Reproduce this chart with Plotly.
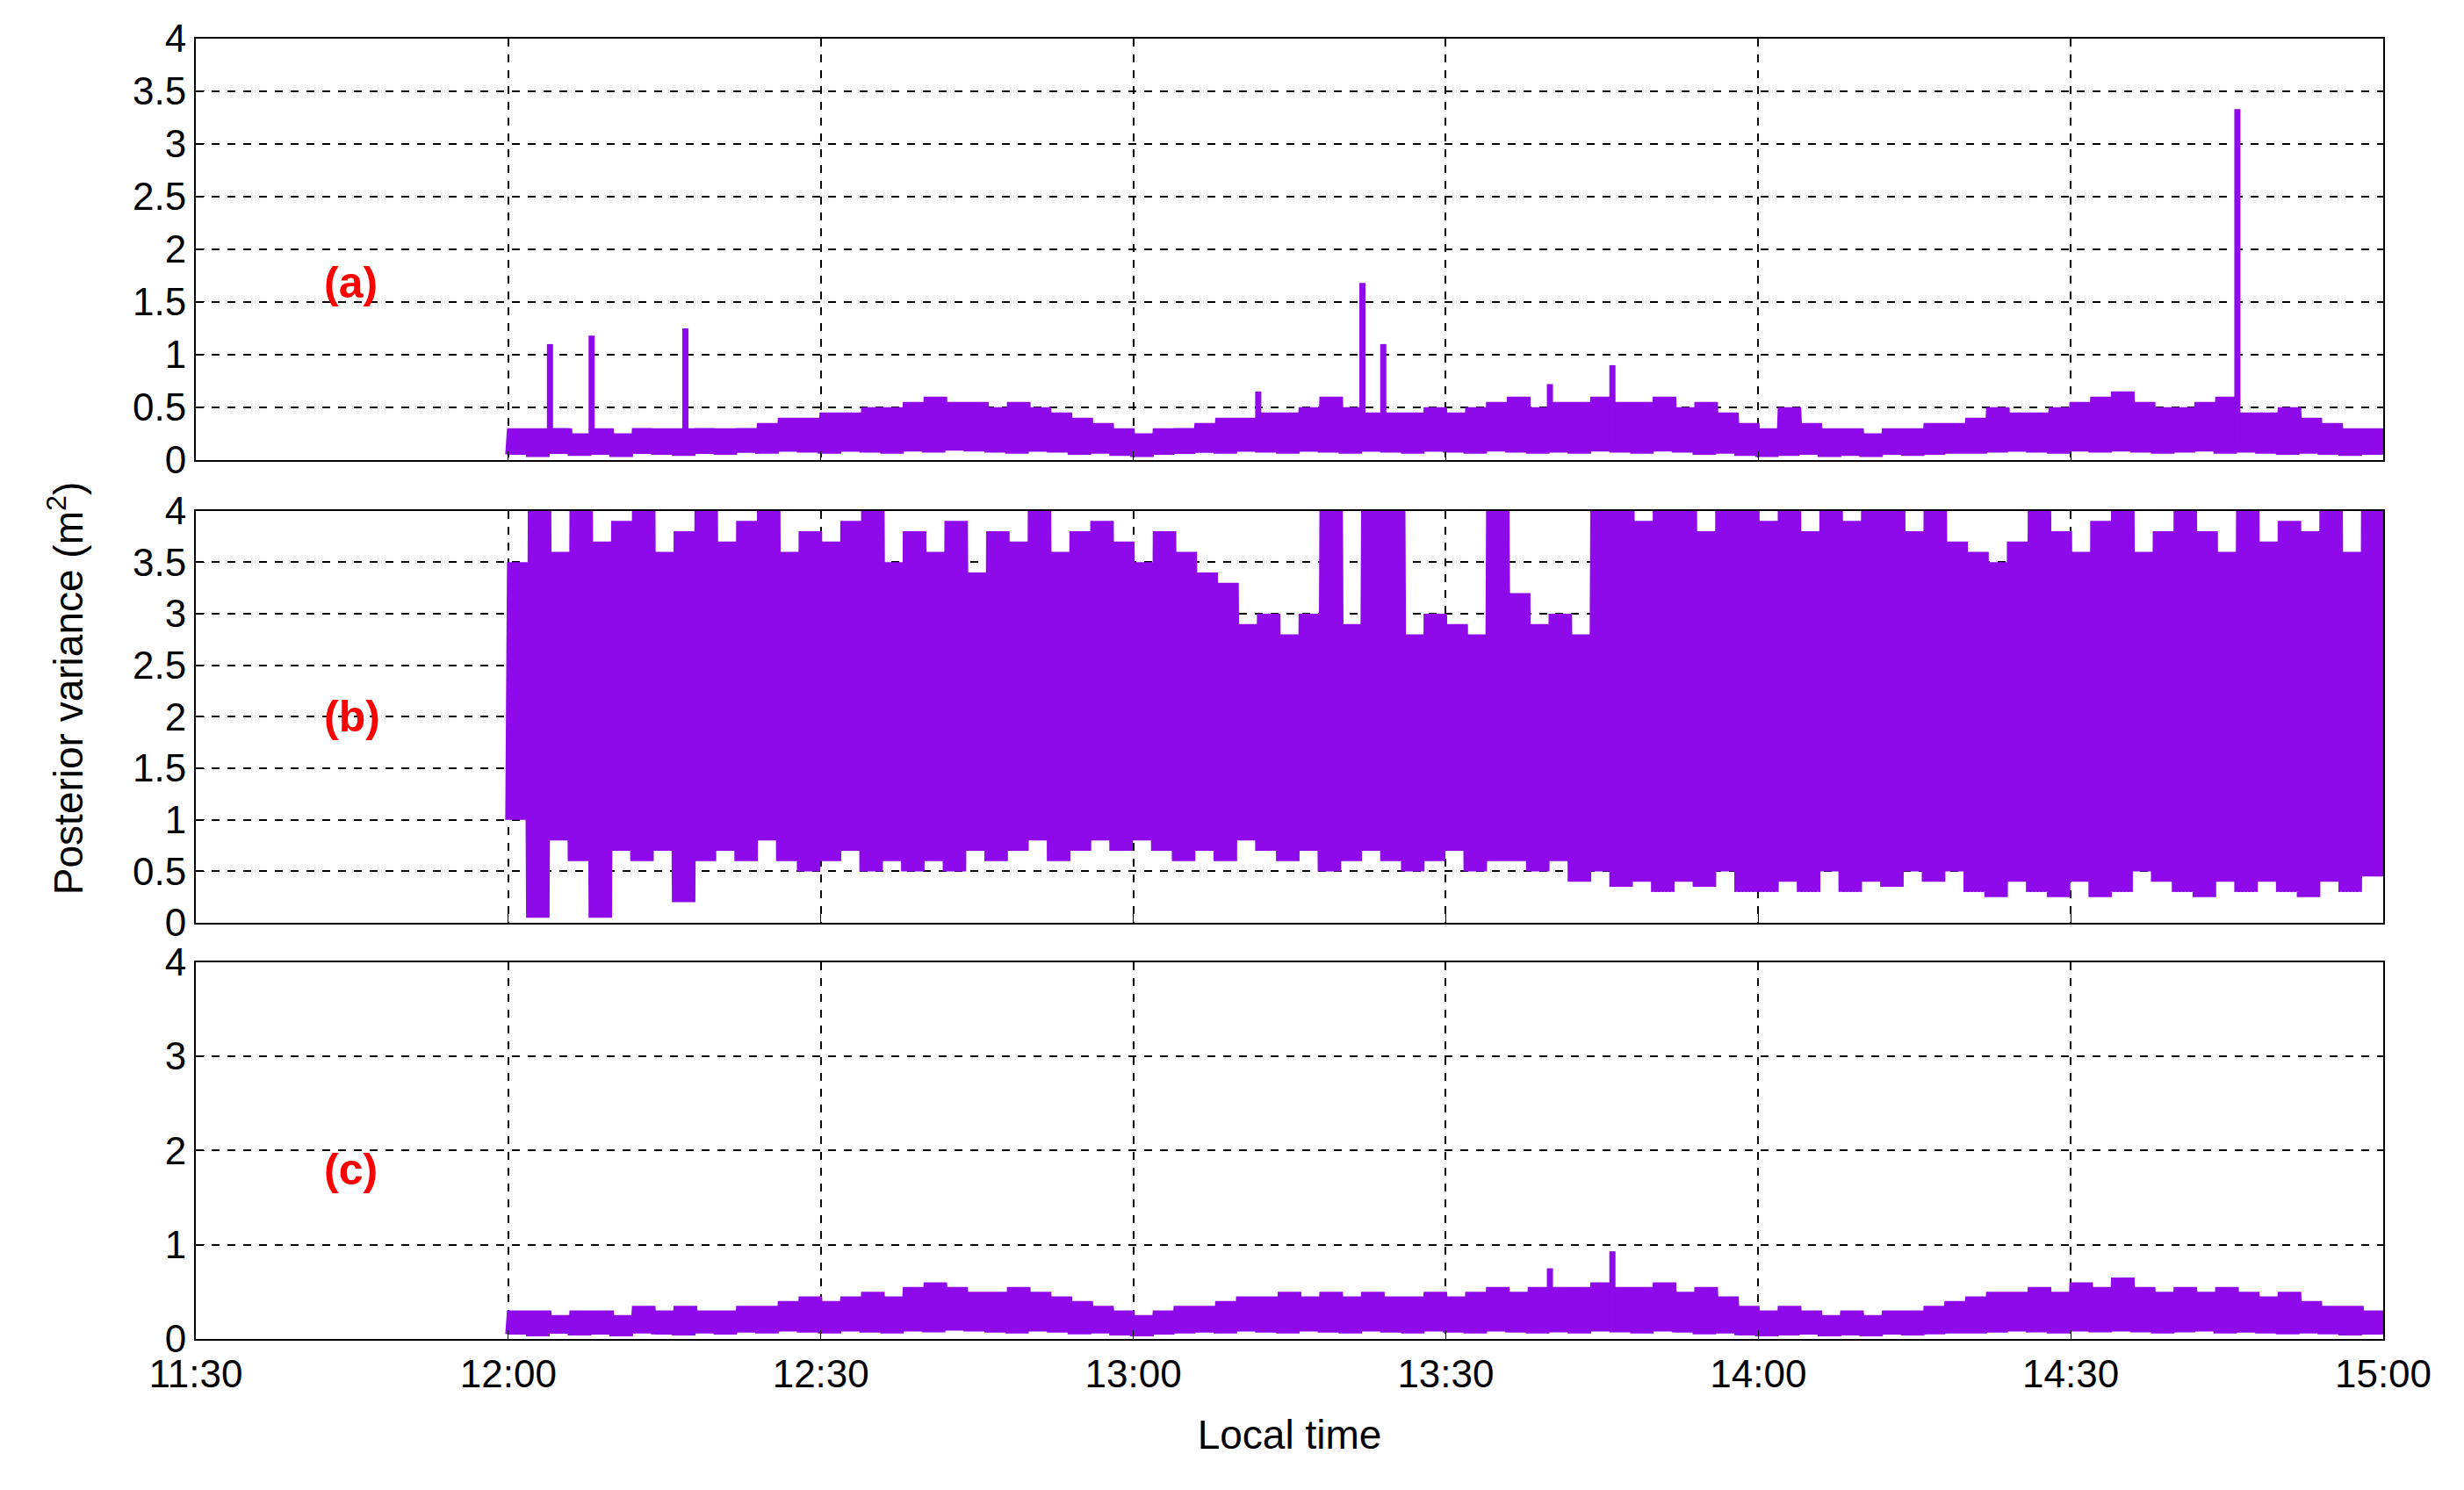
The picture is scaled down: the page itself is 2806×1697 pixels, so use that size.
import pandas as pd
import plotly.graph_objects as go
from plotly.subplots import make_subplots

# values read every 2 minutes from 12:00 to 14:58 (upper / lower envelope of the band)
a_hi = [0.3, 0.3, 0.3, 0.25, 0.3, 0.25, 0.3, 0.3, 0.3, 0.3,
        0.3, 0.3, 0.35, 0.4, 0.4, 0.45, 0.45, 0.5, 0.5, 0.55,
        0.6, 0.55, 0.55, 0.5, 0.55, 0.5, 0.45, 0.4, 0.35, 0.3,
        0.25, 0.3, 0.3, 0.35, 0.4, 0.4, 0.45, 0.45, 0.5, 0.6,
        0.5, 0.45, 0.45, 0.45, 0.5, 0.45, 0.5, 0.55, 0.6, 0.5,
        0.55, 0.55, 0.6, 0.55, 0.55, 0.6, 0.5, 0.55, 0.45, 0.35,
        0.3, 0.5, 0.35, 0.3, 0.3, 0.25, 0.3, 0.3, 0.35, 0.35,
        0.4, 0.5, 0.45, 0.45, 0.5, 0.55, 0.6, 0.65, 0.55, 0.5,
        0.5, 0.55, 0.6, 0.45, 0.45, 0.5, 0.4, 0.35, 0.3, 0.3]
a_lo = [0.05, 0.03, 0.06, 0.04, 0.05, 0.03, 0.06, 0.05, 0.04, 0.06,
        0.05, 0.07, 0.06, 0.08, 0.07, 0.06, 0.08, 0.07, 0.06, 0.08,
        0.07, 0.09, 0.08, 0.07, 0.06, 0.08, 0.07, 0.05, 0.06, 0.04,
        0.03, 0.05, 0.06, 0.07, 0.06, 0.08, 0.07, 0.06, 0.08, 0.07,
        0.06, 0.08, 0.07, 0.06, 0.08, 0.07, 0.06, 0.08, 0.07, 0.06,
        0.07, 0.06, 0.08, 0.07, 0.06, 0.08, 0.07, 0.05, 0.06, 0.04,
        0.03, 0.04, 0.05, 0.03, 0.04, 0.03, 0.05, 0.04, 0.05, 0.06,
        0.06, 0.07, 0.08, 0.07, 0.06, 0.08, 0.07, 0.08, 0.07, 0.06,
        0.07, 0.08, 0.06, 0.07, 0.06, 0.05, 0.06, 0.05, 0.04, 0.05]
# isolated spikes: minutes after 12:00, value
a_spike_min = [4, 8, 17, 72, 82, 84, 100, 106, 166]
a_spike_val = [1.1, 1.18, 1.25, 0.65, 1.68, 1.1, 0.72, 0.9, 3.33]

b_hi = [3.5, 4.0, 3.6, 4.0, 3.7, 3.9, 4.0, 3.6, 3.8, 4.0,
        3.7, 3.9, 4.0, 3.6, 3.8, 3.7, 3.9, 4.0, 3.5, 3.8,
        3.6, 3.9, 3.4, 3.8, 3.7, 4.0, 3.6, 3.8, 3.9, 3.7,
        3.5, 3.8, 3.6, 3.4, 3.3, 2.9, 3.0, 2.8, 3.0, 4.0,
        2.9, 4.0, 4.0, 2.8, 3.0, 2.9, 2.8, 4.0, 3.2, 2.9,
        3.0, 2.8, 4.0, 4.0, 3.9, 4.0, 4.0, 3.8, 4.0, 4.0,
        3.9, 4.0, 3.8, 4.0, 3.9, 4.0, 4.0, 3.8, 4.0, 3.7,
        3.6, 3.5, 3.7, 4.0, 3.8, 3.6, 3.9, 4.0, 3.6, 3.8,
        4.0, 3.8, 3.6, 4.0, 3.7, 3.9, 3.8, 4.0, 3.6, 4.0]
b_lo = [1.0, 0.05, 0.8, 0.6, 0.05, 0.7, 0.6, 0.7, 0.2, 0.6,
        0.7, 0.6, 0.8, 0.6, 0.5, 0.6, 0.7, 0.5, 0.6, 0.5,
        0.6, 0.5, 0.7, 0.6, 0.7, 0.8, 0.6, 0.7, 0.8, 0.7,
        0.8, 0.7, 0.6, 0.7, 0.6, 0.8, 0.7, 0.6, 0.7, 0.5,
        0.6, 0.7, 0.6, 0.5, 0.6, 0.7, 0.5, 0.6, 0.6, 0.5,
        0.6, 0.4, 0.5, 0.35, 0.4, 0.3, 0.4, 0.35, 0.5, 0.3,
        0.3, 0.4, 0.3, 0.5, 0.3, 0.4, 0.35, 0.5, 0.4, 0.5,
        0.3, 0.25, 0.4, 0.3, 0.25, 0.4, 0.25, 0.3, 0.5, 0.4,
        0.3, 0.25, 0.4, 0.3, 0.4, 0.3, 0.25, 0.4, 0.3, 0.45]

c_hi = [0.3, 0.3, 0.25, 0.3, 0.3, 0.25, 0.35, 0.3, 0.35, 0.3,
        0.3, 0.35, 0.35, 0.4, 0.45, 0.4, 0.45, 0.5, 0.45, 0.55,
        0.6, 0.55, 0.5, 0.5, 0.55, 0.5, 0.45, 0.4, 0.35, 0.3,
        0.25, 0.3, 0.35, 0.35, 0.4, 0.45, 0.45, 0.5, 0.45, 0.5,
        0.45, 0.5, 0.45, 0.45, 0.5, 0.45, 0.5, 0.55, 0.5, 0.55,
        0.55, 0.55, 0.6, 0.55, 0.55, 0.6, 0.5, 0.55, 0.45, 0.35,
        0.3, 0.35, 0.3, 0.25, 0.3, 0.25, 0.3, 0.3, 0.35, 0.4,
        0.45, 0.5, 0.5, 0.55, 0.5, 0.6, 0.55, 0.65, 0.55, 0.5,
        0.55, 0.5, 0.55, 0.5, 0.45, 0.5, 0.4, 0.35, 0.35, 0.3]
c_lo = a_lo
c_spike_min = [100, 106]
c_spike_val = [0.75, 0.93]

panel_labels = ["(a)", "(b)", "(c)"]
tick_times = ["11:30", "12:00", "12:30", "13:00", "13:30", "14:00", "14:30", "15:00"]

t0 = pd.Timestamp("2000-01-01 12:00")
color = "#8E0AEA"
SUB = 6  # oscillations drawn per 2-minute bin

fig = make_subplots(rows=3, cols=1, shared_xaxes=True, vertical_spacing=0.035)

panels = [(a_hi, a_lo, a_spike_min, a_spike_val),
          (b_hi, b_lo, [], []),
          (c_hi, c_lo, c_spike_min, c_spike_val)]
for row, (hi, lo, sp_m, sp_v) in enumerate(panels, start=1):
    xs, ys = [], []
    for i in range(len(hi)):
        for k in range(SUB):
            xs += [t0 + pd.Timedelta(seconds=120 * i + 20 * k),
                   t0 + pd.Timedelta(seconds=120 * i + 20 * k + 10)]
            ys += [lo[i], hi[i]]
    xs.append(t0 + pd.Timedelta(minutes=180))
    ys.append(lo[-1])
    fig.add_trace(go.Scatter(x=xs, y=ys, mode="lines", line=dict(color=color, width=7),
                             showlegend=False), row=row, col=1)
    if sp_m:
        sx, sy = [], []
        for m, v in zip(sp_m, sp_v):
            sx += [t0 + pd.Timedelta(minutes=m)] * 2 + [None]
            sy += [0.1, v, None]
        fig.add_trace(go.Scatter(x=sx, y=sy, mode="lines", line=dict(color=color, width=7),
                                 showlegend=False), row=row, col=1)

tickvals = [pd.Timestamp("2000-01-01 " + t) for t in tick_times]
axis_common = dict(showline=True, mirror=True, linecolor="black", linewidth=2,
                   showgrid=True, gridcolor="black", griddash="dash", gridwidth=1.5,
                   ticks="inside", tickcolor="black", ticklen=10, zeroline=False,
                   tickfont=dict(size=44, color="black"))
for r in range(1, 4):
    fig.update_xaxes(range=[tickvals[0], tickvals[-1]], tickvals=tickvals,
                     ticktext=tick_times, showticklabels=(r == 3), row=r, col=1, **axis_common)
fig.update_yaxes(range=[0, 4], dtick=0.5, domain=[0.676, 1.0], row=1, col=1, **axis_common)
fig.update_yaxes(range=[0, 4], dtick=0.5, domain=[0.320, 0.637], row=2, col=1, **axis_common)
fig.update_yaxes(range=[0, 4], dtick=1, domain=[0.0, 0.290], row=3, col=1, **axis_common)

label_y = [0.42, 0.5, 0.45]
for r, lab in enumerate(panel_labels, start=1):
    yref = "y domain" if r == 1 else f"y{r} domain"
    xref = "x domain" if r == 1 else f"x{r} domain"
    fig.add_annotation(text=f"<b>{lab}</b>", x=0.058, y=label_y[r - 1], xref=xref, yref=yref,
                       showarrow=False, font=dict(size=50, color="red"))

fig.add_annotation(text="Posterior variance (m<sup>2</sup>)", x=-0.072, y=0.5,
                   xref="paper", yref="paper", textangle=-90, showarrow=False,
                   font=dict(size=46, color="black"))
fig.update_xaxes(title=dict(text="Local time", font=dict(size=46, color="black"), standoff=30),
                 row=3, col=1)

fig.update_layout(width=2806, height=1697, plot_bgcolor="white", paper_bgcolor="white",
                  font=dict(family="Liberation Sans, Arial", color="black"),
                  margin=dict(l=215, r=100, t=36, b=180))
fig.write_html("out.html")
